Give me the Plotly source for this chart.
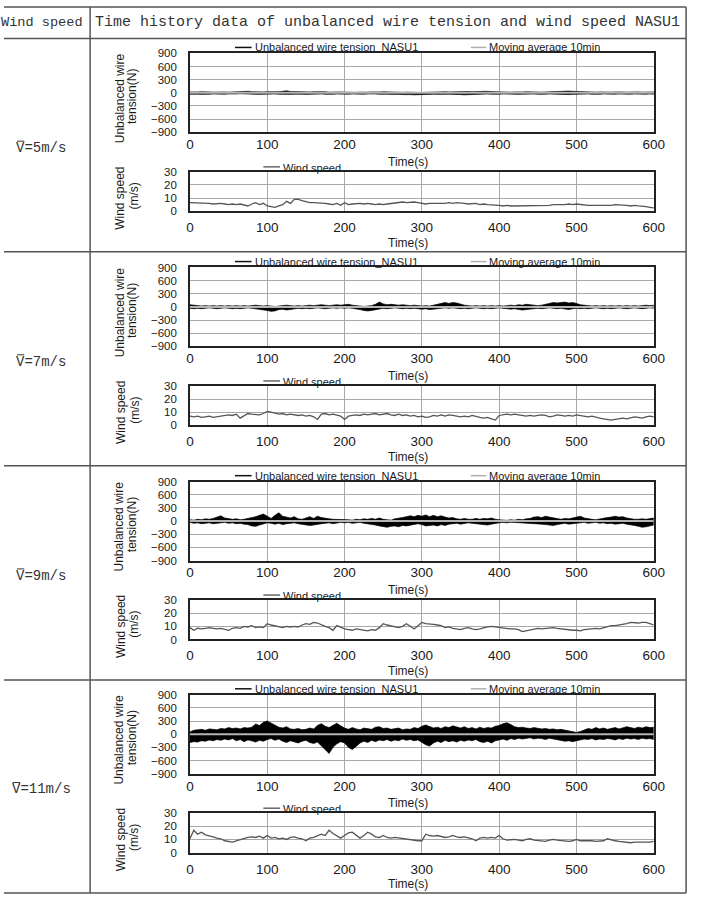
import plotly.graph_objects as go

W, H = 701, 903

# ---------------- data (5 s steps) ----------------
row_labels = ["=5m/s", "=7m/s", "=9m/s", "=11m/s"]
x_ticks = [0, 100, 200, 300, 400, 500, 600]
tension_ticks = [-900, -600, -300, 0, 300, 600, 900]
wind_ticks = [0, 10, 20, 30]

# upper / lower envelope of unbalanced wire tension (N)
tension_max_5 = [20, 15, 20, 25, 15, 20, 15, 20, 25, 20,
                 15, 20, 25, 30, 40, 35, 25, 20, 15, 20,
                 25, 20, 15, 25, 35, 45, 30, 25, 20, 25,
                 15, 20, 25, 30, 20, 25, 15, 20, 15, 20,
                 15, 10, 15, 10, 15, 10, 15, 20, 15, 20,
                 25, 20, 25, 20, 15, 10, 15, 10, 15, 10,
                 5, 10, 15, 20, 15, 20, 25, 20, 25, 30,
                 20, 25, 30, 25, 20, 30, 35, 40, 30, 25,
                 20, 25, 20, 15, 20, 15, 20, 25, 20, 15,
                 20, 15, 20, 25, 20, 30, 35, 40, 40, 35,
                 30, 25, 20, 15, 20, 15, 20, 15, 20, 15,
                 20, 25, 20, 15, 20, 15, 20, 15, 20, 15,
                 20]
tension_min_5 = [-30, -25, -30, -35, -25, -30, -25, -30, -35, -30,
                 -25, -30, -25, -20, -25, -30, -25, -30, -35, -30,
                 -25, -30, -25, -30, -35, -40, -35, -30, -25, -30,
                 -35, -30, -25, -30, -25, -30, -35, -30, -25, -30,
                 -25, -30, -25, -30, -25, -30, -25, -20, -25, -30,
                 -25, -30, -35, -30, -35, -40, -35, -40, -45, -40,
                 -35, -30, -25, -30, -35, -30, -25, -30, -35, -30,
                 -40, -45, -40, -35, -30, -25, -30, -25, -30, -35,
                 -30, -25, -30, -25, -30, -35, -30, -25, -30, -25,
                 -30, -35, -30, -25, -30, -25, -30, -35, -40, -35,
                 -30, -25, -30, -25, -30, -35, -30, -25, -30, -25,
                 -30, -25, -30, -35, -30, -25, -30, -25, -30, -25,
                 -30]
tension_max_7 = [50, 40, 30, 20, 30, 20, 30, 20, 30, 20,
                 30, 20, 30, 20, 30, 20, 30, 40, 30, 20,
                 30, 20, 10, 20, 30, 40, 30, 20, 30, 20,
                 30, 40, 30, 40, 50, 40, 30, 40, 50, 40,
                 50, 60, 40, 30, 20, 10, 20, 30, 60, 110,
                 70, 50, 60, 50, 40, 50, 40, 30, 40, 30,
                 20, 30, 20, 40, 60, 90, 100, 80, 100, 90,
                 60, 40, 30, 20, 30, 20, 30, 20, 30, 20,
                 30, 20, 30, 40, 30, 50, 40, 60, 50, 40,
                 30, 40, 60, 80, 100, 90, 100, 110, 90, 100,
                 80, 50, 40, 30, 20, 30, 20, 30, 20, 30,
                 20, 30, 20, 30, 20, 30, 20, 30, 40, 30,
                 40]
tension_min_7 = [-30, -40, -30, -40, -30, -20, -30, -40, -30, -20,
                 -30, -40, -30, -40, -30, -20, -30, -40, -50, -60,
                 -80, -100, -90, -60, -50, -70, -60, -40, -30, -40,
                 -30, -40, -30, -20, -30, -40, -30, -20, -30, -20,
                 -30, -20, -30, -40, -60, -80, -90, -80, -60, -40,
                 -30, -40, -30, -20, -30, -40, -30, -40, -30, -40,
                 -50, -40, -60, -50, -40, -30, -20, -30, -20, -30,
                 -40, -30, -40, -30, -20, -30, -40, -30, -40, -30,
                 -20, -30, -40, -50, -40, -50, -70, -60, -50, -40,
                 -30, -40, -30, -20, -30, -40, -30, -50, -60, -40,
                 -30, -40, -30, -40, -30, -20, -30, -40, -30, -40,
                 -30, -20, -30, -40, -30, -20, -30, -40, -30, -20,
                 -30]
tension_max_9 = [30, 20, 40, 30, 50, 40, 60, 90, 120, 70,
                 50, 40, 50, 30, 40, 60, 70, 100, 130, 160,
                 110, 60, 130, 190, 110, 90, 70, 100, 50, 40,
                 70, 100, 60, 110, 80, 60, 50, 40, 40, 30,
                 40, 30, 20, 40, 30, 50, 40, 60, 40, 70,
                 40, 30, 20, 50, 60, 80, 100, 120, 100, 130,
                 110, 140, 100, 130, 100, 120, 90, 70, 80, 50,
                 40, 60, 40, 40, 60, 40, 60, 50, 70, 40,
                 30, 20, 15, 30, 20, 40, 30, 50, 60, 90,
                 100, 80, 110, 90, 70, 50, 40, 60, 50, 70,
                 90, 110, 70, 50, 40, 30, 50, 60, 80, 90,
                 110, 90, 100, 70, 50, 40, 40, 50, 40, 60,
                 70]
tension_min_9 = [-30, -50, -40, -60, -50, -40, -60, -50, -40, -30,
                 -50, -40, -60, -50, -70, -80, -110, -120, -90, -60,
                 -40, -50, -70, -50, -80, -60, -50, -40, -60, -70,
                 -80, -100, -90, -70, -60, -50, -40, -60, -50, -30,
                 -40, -30, -50, -40, -30, -50, -60, -80, -90, -110,
                 -130, -140, -120, -110, -130, -100, -110, -90, -70, -60,
                 -80, -110, -100, -90, -110, -80, -100, -70, -60, -50,
                 -70, -60, -40, -50, -60, -70, -80, -90, -70, -50,
                 -40, -30, -40, -25, -30, -40, -30, -50, -40, -60,
                 -50, -70, -80, -90, -100, -80, -60, -50, -70, -60,
                 -50, -40, -30, -50, -40, -30, -50, -40, -60, -50,
                 -70, -60, -50, -70, -80, -100, -120, -140, -130, -110,
                 -90]
tension_max_11 = [50, 90, 100, 110, 90, 120, 110, 100, 130, 120,
                  150, 130, 140, 120, 150, 140, 160, 230, 200, 270,
                  300, 250, 200, 160, 140, 170, 120, 110, 130, 100,
                  110, 140, 120, 200, 240, 180, 150, 210, 250, 190,
                  140, 110, 150, 120, 100, 140, 120, 110, 160, 170,
                  130, 140, 110, 120, 140, 100, 120, 110, 150, 130,
                  180, 210, 170, 140, 160, 130, 170, 150, 190, 160,
                  140, 170, 130, 150, 120, 160, 130, 150, 140, 180,
                  200, 240, 260, 220, 170, 150, 160, 140, 130, 150,
                  140, 120, 130, 110, 120, 100, 110, 90, 70, 50,
                  40, 60, 100, 130, 110, 150, 120, 140, 110, 130,
                  150, 120, 140, 170, 150, 130, 160, 140, 170, 150,
                  160]
tension_min_11 = [-190, -170, -180, -150, -160, -130, -150, -120, -140, -110,
                  -130, -100, -150, -120, -170, -130, -150, -180, -140, -160,
                  -120, -100, -140, -110, -160, -190, -150, -170, -200, -160,
                  -140, -190, -210, -180, -260, -360, -440, -300, -220, -170,
                  -200, -300, -350, -280, -200, -160, -190, -140, -170, -130,
                  -150, -120, -160, -130, -150, -110, -140, -120, -150, -130,
                  -180, -240, -270, -200, -160, -190, -140, -170, -150, -180,
                  -140, -160, -130, -150, -120, -170, -190, -160, -200, -150,
                  -130, -110, -140, -100, -120, -90, -110, -100, -80, -110,
                  -90, -100, -120, -90, -110, -130, -140, -160, -150, -170,
                  -150, -130, -110, -120, -100, -130, -110, -120, -100, -110,
                  -130, -100, -120, -90, -110, -100, -120, -90, -110, -100,
                  -120]

# 10 min moving average of tension (N), at t = 0 and 600 s
ma_time = [0, 600]
moving_avg_5 = [0, 0]
moving_avg_7 = [0, 0]
moving_avg_9 = [0, 0]
moving_avg_11 = [0, 0]

# wind speed (m/s)
wind_5 = [6.5, 6.5, 6, 6, 6.5, 6, 5.5, 6, 6, 5.5,
          5, 5.5, 5, 5.5, 4.5, 4, 5.5, 6.5, 5, 6,
          4, 3.5, 3, 4, 5, 7.5, 6, 9, 9, 8,
          7, 6.5, 6.5, 6.5, 6, 6, 5.5, 5, 6, 4.5,
          6.5, 5, 5.5, 6, 6, 5.5, 6, 5.5, 5, 5.5,
          5, 5.5, 6, 6.5, 6.5, 7, 6.5, 7, 7, 6.5,
          6, 5.5, 6, 6, 5.5, 6, 6, 6.5, 6, 6.5,
          6.5, 6, 5.5, 5.5, 6, 5, 5.5, 5, 5, 4.5,
          4.5, 4, 4.5, 4, 4, 4, 4.5, 4, 4, 4,
          4, 4.5, 4, 4.5, 5, 5, 4.5, 5, 5.5, 5,
          5.5, 5, 5, 4.5, 4.5, 4.5, 4.5, 4, 4, 4.5,
          5, 5, 5, 4.5, 4, 4.5, 4, 4, 3.5, 3,
          2.5]
wind_7 = [7, 6.5, 7, 6, 6.5, 7, 6, 6.5, 7, 7.5,
          8, 7.5, 8.5, 5.5, 7, 9, 8.5, 8.5, 8, 9,
          10.5, 10, 9, 8.5, 9, 8, 8.5, 8, 7.5, 8,
          7, 7.5, 6.5, 4.5, 8.5, 9, 8, 8.5, 7.5, 7,
          4.5, 7, 7.5, 8, 7.5, 8.5, 8, 8.5, 9, 8,
          8.5, 9, 8, 7.5, 8.5, 7.5, 8, 7, 7.5, 6.5,
          7, 6, 6.5, 7.5, 7, 8, 7, 8, 7.5, 7,
          6.5, 7, 6.5, 7.5, 6.5, 6, 5.5, 6, 5, 4,
          7.5, 8, 8.5, 8, 8.5, 8, 7.5, 7, 7.5, 7,
          7.5, 8, 7.5, 6.5, 7, 8, 7.5, 7, 7.5, 7,
          8, 7.5, 7, 6.5, 7, 6, 5.5, 5, 4.5, 4,
          4.5, 5, 5.5, 5, 6, 6.5, 6, 5.5, 6.5, 7,
          6.5]
wind_9 = [9, 7, 8.5, 8, 8.5, 9, 8.5, 8, 8.5, 7.5,
          7, 8.5, 9, 8.5, 10, 9.5, 10.5, 9, 9.5, 9,
          12, 11, 10.5, 9.5, 9, 10, 9.5, 10, 9.5, 11,
          12, 11.5, 13, 12.5, 11, 10, 9, 7, 10.5, 9,
          8, 7.5, 7, 8, 7.5, 7, 6.5, 7.5, 7, 9,
          12, 11, 10.5, 9.5, 9, 10, 12, 10, 8, 10.5,
          13, 12, 12, 11.5, 11, 10.5, 9, 9.5, 8.5, 8,
          7.5, 8.5, 9, 8, 7.5, 8, 9, 9.5, 10, 9.5,
          9, 9, 8.5, 8, 8, 7.5, 6, 6.5, 7.5, 8,
          8.5, 8, 8.5, 9, 9, 8.5, 8, 7.5, 7.5, 7,
          7, 6.5, 7.5, 8, 8.5, 8.5, 8, 9, 10, 10.5,
          10.5, 11, 11, 12, 13, 12.5, 12.5, 13, 13, 12,
          11]
wind_11 = [10.5, 17, 14, 15.5, 13.5, 13, 12, 11, 10.5, 9,
           8.5, 8, 9, 10, 10.5, 11.5, 12, 11.5, 12.5, 11,
           13, 11, 11.5, 10.5, 11, 10, 11.5, 12, 11, 10.5,
           9, 11, 11.5, 13, 14, 13, 17, 14.5, 13, 11,
           13, 15, 15.5, 13, 11, 13, 15.5, 14, 12, 11.5,
           13, 11.5, 11, 11.5, 11, 10.5, 10.5, 9.5, 9.5, 9,
           9, 14, 13, 12.5, 13, 12, 11.5, 12, 13, 12,
           11.5, 12, 11.5, 10.5, 9, 11, 11.5, 11, 11.5, 11,
           13, 10.5, 9.5, 10, 10, 9.5, 9, 10, 10.5, 9.5,
           9, 8.5, 8.5, 9.5, 10, 9.5, 9, 8.5, 8.5, 9,
           10, 9, 9, 9.5, 9, 8.5, 8.5, 9, 10.5, 9.5,
           9, 8.5, 8, 7.5, 7.5, 8, 8, 7.5, 8, 8,
           8.5]

rows = [
    (tension_max_5, tension_min_5, moving_avg_5, wind_5),
    (tension_max_7, tension_min_7, moving_avg_7, wind_7),
    (tension_max_9, tension_min_9, moving_avg_9, wind_9),
    (tension_max_11, tension_min_11, moving_avg_11, wind_11),
]

# ---------------- layout helpers ----------------
def py(y):
    return 1 - y / H

def px(x):
    return x / W

PLOT_L, PLOT_R = 190, 664
row_tops = [48, 265, 482, 698]
table_rows = [33, 249, 466, 683, 899]

SANS = "Liberation Sans"
MONO = "Liberation Mono"
TXT = "#1a1a1a"

fig = go.Figure()
layout = dict(
    width=W, height=H, autosize=False,
    margin=dict(l=0, r=0, t=0, b=0),
    paper_bgcolor="white", plot_bgcolor="white",
    showlegend=False,
)

axis_common = dict(
    showline=True, linecolor="#222", linewidth=1.5, mirror=True,
    showgrid=True, gridcolor="#a8a8a8", gridwidth=1,
    zeroline=False, ticks="", fixedrange=True,
    tickfont=dict(family=SANS, size=13.5, color=TXT),
)
ytick_font = dict(family=SANS, size=11.5, color=TXT)

shapes = []
annotations = []

for r, (tmax, tmin, ma, wind) in enumerate(rows):
    top = row_tops[r]
    t = [5 * i for i in range(len(wind))]
    ia = 2 * r + 1
    ib = 2 * r + 2
    xa, ya = f"x{ia}", f"y{ia}"
    xb, yb = f"x{ib}", f"y{ib}"
    # tension axes
    layout[f"xaxis{ia}"] = dict(axis_common, domain=[px(PLOT_L), px(PLOT_R)],
                                range=[0, 600], tickvals=x_ticks, anchor=ya,
                                ticklabelstandoff=-1)
    layout[f"yaxis{ia}"] = dict(axis_common, domain=[py(top + 80), py(top)],
                                range=[-900, 900], tickvals=tension_ticks, anchor=xa,
                                ticklabelstandoff=9, tickfont=ytick_font)
    # wind axes
    layout[f"xaxis{ib}"] = dict(axis_common, domain=[px(PLOT_L), px(PLOT_R)],
                                range=[0, 600], tickvals=x_ticks, anchor=yb,
                                ticklabelstandoff=3)
    layout[f"yaxis{ib}"] = dict(axis_common, domain=[py(top + 160), py(top + 120)],
                                range=[0, 30], tickvals=wind_ticks, anchor=xb,
                                ticklabelstandoff=9, tickfont=ytick_font)

    tt = [5 * i for i in range(len(tmin))]
    fig.add_trace(go.Scatter(x=tt, y=tmin, mode="lines", xaxis=xa, yaxis=ya,
                             line=dict(color="black", width=0.7), hoverinfo="skip"))
    fig.add_trace(go.Scatter(x=tt, y=tmax, mode="lines", xaxis=xa, yaxis=ya,
                             fill="tonexty", fillcolor="black",
                             line=dict(color="black", width=0.7), hoverinfo="skip"))
    fig.add_trace(go.Scatter(x=ma_time, y=ma, mode="lines", xaxis=xa, yaxis=ya,
                             line=dict(color="#b4b4b4", width=2), hoverinfo="skip"))
    fig.add_trace(go.Scatter(x=t, y=wind, mode="lines", xaxis=xb, yaxis=yb,
                             line=dict(color="#555555", width=1.3), hoverinfo="skip"))

    # legends
    ly = top - 6
    shapes.append(dict(type="line", xref="paper", yref="paper",
                       x0=px(236), x1=px(253), y0=py(ly), y1=py(ly),
                       line=dict(color="#111", width=1.5)))
    annotations.append(dict(text="Unbalanced wire tension_NASU1", x=px(254), y=py(ly),
                            xref="paper", yref="paper", xanchor="left", yanchor="middle",
                            showarrow=False, font=dict(family=SANS, size=11, color=TXT)))
    shapes.append(dict(type="line", xref="paper", yref="paper",
                       x0=px(477), x1=px(493), y0=py(ly), y1=py(ly),
                       line=dict(color="#b0b0b0", width=1.5)))
    annotations.append(dict(text="Moving average 10min", x=px(494), y=py(ly),
                            xref="paper", yref="paper", xanchor="left", yanchor="middle",
                            showarrow=False, font=dict(family=SANS, size=11, color=TXT)))
    wy = top + 115
    shapes.append(dict(type="line", xref="paper", yref="paper",
                       x0=px(265), x1=px(282), y0=py(wy), y1=py(wy),
                       line=dict(color="#666", width=1.5)))
    annotations.append(dict(text="Wind speed", x=px(283), y=py(wy + 1),
                            xref="paper", yref="paper", xanchor="left", yanchor="middle",
                            showarrow=False, font=dict(family=SANS, size=11, color=TXT)))

    # axis titles
    for txt, xx, yy in [("Unbalanced wire", 118, top + 45), ("tension(N)", 131, top + 44),
                        ("Wind speed", 119, top + 147), ("(m/s)", 133, top + 145)]:
        annotations.append(dict(text=txt, x=px(xx), y=py(yy), xref="paper", yref="paper",
                                xanchor="center", yanchor="middle", textangle=-90,
                                showarrow=False, font=dict(family=SANS, size=12, color=TXT)))
    for yy in (top + 110, top + 192):
        annotations.append(dict(text="Time(s)", x=px(413), y=py(yy), xref="paper", yref="paper",
                                xanchor="center", yanchor="middle", showarrow=False,
                                font=dict(family=SANS, size=12, color=TXT)))

    # row label
    cy = (table_rows[r] + table_rows[r + 1]) / 2 + 3
    lab = "V" + row_labels[r]
    char_w = 0.6 * 14
    x_start = 38 - len(lab) * char_w / 2
    annotations.append(dict(text=lab, x=px(38), y=py(cy), xref="paper", yref="paper",
                            xanchor="center", yanchor="middle", showarrow=False,
                            font=dict(family=MONO, size=14, color="#333")))
    shapes.append(dict(type="line", xref="paper", yref="paper",
                       x0=px(x_start + 0.5), x1=px(x_start + char_w - 0.5),
                       y0=py(cy - 7), y1=py(cy - 7), line=dict(color="#333", width=1)))

# table frame
TL = dict(color="#555", width=1.5)
for y in [1] + table_rows:
    shapes.append(dict(type="line", xref="paper", yref="paper", x0=0, x1=px(697),
                       y0=py(y), y1=py(y), line=TL))
for x in (88, 697):
    shapes.append(dict(type="line", xref="paper", yref="paper", x0=px(x), x1=px(x),
                       y0=py(1), y1=py(899), line=TL))

annotations.append(dict(text="Wind speed", x=px(83), y=py(17), xref="paper", yref="paper",
                        xanchor="right", yanchor="middle", showarrow=False,
                        font=dict(family=MONO, size=13.6, color="#333")))
annotations.append(dict(text="Time history data of unbalanced wire tension and wind speed NASU1",
                        x=px(392), y=py(17), xref="paper", yref="paper",
                        xanchor="center", yanchor="middle", showarrow=False,
                        font=dict(family=MONO, size=15, color="#333")))

layout["shapes"] = shapes
layout["annotations"] = annotations
fig.update_layout(**layout)
fig.write_html("out.html")
